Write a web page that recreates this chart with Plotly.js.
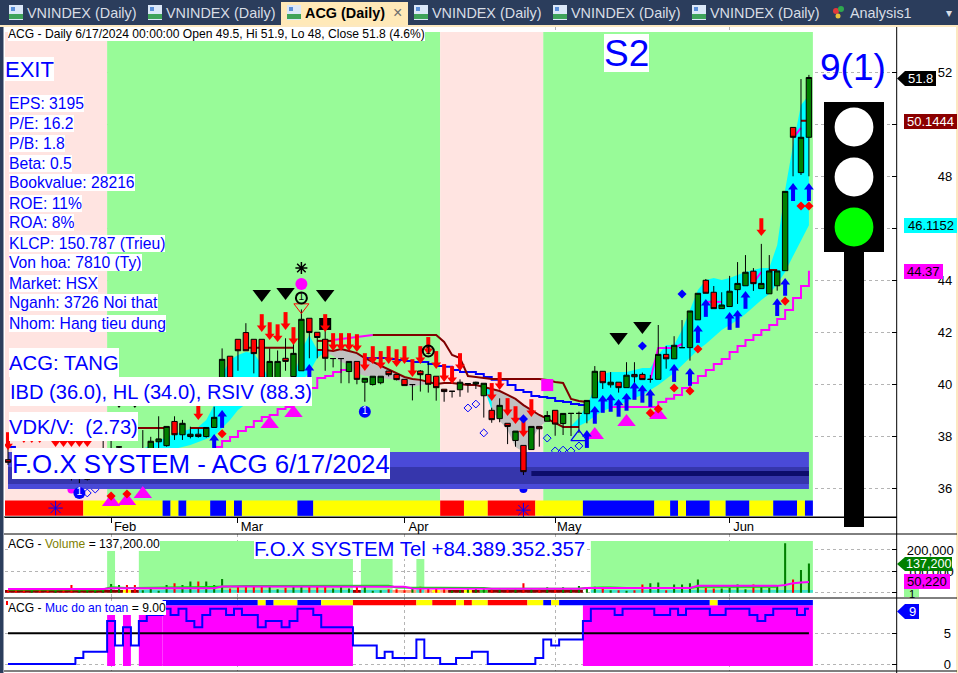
<!DOCTYPE html>
<html><head><meta charset="utf-8"><title>ACG</title>
<script src="https://cdn.plot.ly/plotly-3.0.1.min.js"></script>
<style>html,body{margin:0;padding:0;background:#fff;overflow:hidden}#c{width:958px;height:673px}</style>
</head><body><div id="c"></div><script>
// ---------- DATA ----------
const open_ =[37.1,37,36.9,36.8,36.9,36.8,36.6,36.8,36.6,36.4,36.36,36.5,36.8,37.2,37.59,37.4,37.3,37.2,37.2,37.79,37.64,38.57,38.06,37.99,38.08,37.99,38.34,40.23,41.08,41.73,41.99,41.73,41.73,40.23,40.23,41,40.3,40.52,42.54,42,41.73,40.99,40.99,40.49,40.88,40.08,39.99,40.06,40.51,40.38,40.19,39.99,40.51,40.38,40.31,39.81,39.73,39.79,40.02,40.01,39.56,39,38.68,38.5,37.84,37.65,37.49,38.38,38.58,39,38.49,38.88,38.88,38.87,39.48,40.5,39.98,40.08,39.87,40.38,40.38,40.19,40.19,41.15,40.98,41.41,41.41,42.48,44,43.54,42.91,42.99,43.64,43.79,44.35,43.68,43.48,43.79,44.37,49.88,48.14,49.5];
const high_ =[37.55,37.2,37.1,37,37.1,36.9,36.9,37,36.7,36.6,36.5,36.8,37.86,37.82,37.59,37.5,37.45,38.24,37.98,38.77,38.38,38.77,38.63,38.37,38.3,38.35,39.14,41.38,41.08,41.73,42.35,41.73,41.73,41.38,41.3,41.77,41.73,42.88,42.54,42,42.3,40.99,40.99,40.88,40.88,40.23,40.31,40.31,40.51,40.38,40.19,39.99,40.55,40.85,40.31,39.81,39.73,40.19,40.02,40.1,40.04,39.1,39.46,38.5,38.2,37.65,38.38,38.38,38.97,39,38.88,38.88,38.95,39.38,40.7,40.5,40.47,40.08,40.85,40.85,40.45,40.36,42.28,41.47,41.85,42.47,42.82,43.5,44.05,43.78,43.54,44.17,44.7,44.97,44.47,45.4,44.97,44.36,47.42,49.88,51.74,51.9];
const low_  =[36.9,36.7,36.6,36.6,36.7,36.5,36.5,36.5,36.3,36.2,36.3,36.4,36.7,37.2,37.2,37.1,37.1,37.1,37.1,37.54,37.6,37.86,37.86,37.92,37.95,37.95,38.34,40.2,40.2,40.52,41.29,40.42,40.23,40.23,40.23,40.52,40.3,40.52,41,41,40.52,40.65,40.04,40.04,40,39.33,39.95,40,40.3,40.15,39.95,39.38,39.72,39.68,39.37,39.33,39.49,39.52,39.68,39.82,38.72,38.52,38.54,37.7,37.6,36.51,37.49,37.6,38.58,38.02,38.05,38.01,38.13,38.5,39.48,39.82,39.87,39.68,39.87,39.97,40.18,40.06,40.19,40.6,40.98,41.41,40.91,42.48,43.5,42.91,42.91,42.99,43.09,43.79,43.59,43.68,43.48,43.6,44.37,48,48.05,48];
const close_=[37,36.9,36.8,36.9,36.8,36.6,36.8,36.6,36.4,36.5,36.36,36.7,37.5,37.45,37.59,37.3,37.2,37.4,37.81,37.9,38.38,38.06,38.5,38.08,37.99,38.34,38.73,40.96,40.23,41.29,41.29,41.18,40.23,40.88,40.88,40.88,41.19,42.5,41.99,41.8,41,40.99,40.99,40.88,40.19,40.23,40.31,40.31,40.37,40.18,39.95,39.99,40.37,40,39.87,39.72,39.73,40.08,40.02,40.08,40.04,38.64,39.19,38.38,38.2,36.64,38.38,38.29,38.8,38.47,38.88,38.88,38.88,39.38,40.5,40.06,40.08,39.87,40.35,40.29,40.18,40.19,41.15,40.98,41.5,41.41,42.82,43.5,43.5,42.91,43.05,43.58,43.88,44.31,43.87,43.88,44.36,44.36,47.42,49.5,49.5,51.8];

// cyan / grey clouds between the two averages
const cyan1Start=17;
const cyan1Hi=[37.51,37.67,37.82,37.97,38.09,38.2,38.28,38.36,38.63,39.2,40.36,40.93,41.13,41.24,41.2,40.74,40.17,39.97,40.01,40.17,41.32,41.9,41.32,41.24];
const cyan1Lo=[37.51,37.47,37.47,37.47,37.51,37.59,37.67,37.78,37.9,38.01,38.32,38.63,39.01,39.24,39.47,39.7,39.78,39.86,39.9,39.97,40.09,40.47,41.01,41.24];
const gray1Start=40;
const gray1Hi=[41.24,41.32,41.36,41.28,41.2,41.01,40.86,40.7,40.55,40.4,40.28,40.2,40.17,40.09,40.01];
const gray1Lo=[41.24,41.09,40.86,40.74,40.43,40.32,40.32,40.24,40.2,40.17,39.97,39.9,39.97,40.01,40.01];
const cyan2Start=60;
const cyan2Hi=[39.9,39.82,39.74];
const cyan2Lo=[39.9,39,39.74];
const gray2Start=61;
const gray2Hi=[39.82,39.74,39.59,39.44,39.2,39.01,38.82,38.67,38.51];
const gray2Lo=[39,38.6,38.24,37.59,37.4,37.86,38.36,38.6,38.51];
const cyan3Start=70;
const cyan3Hi=[38.36,38.4,38.7,39.2,39.86,40.4,40.47,40.47,40.47,40.55,40.63,40.63,41.13,41.51,41.51,42.09,42.86,43.63,44.01,44.09,44.01,44.09,44.2,44.32,44.4,44.47,44.47,45.36,47.47,49.2,50.74,51.13];
const cyan3Lo=[38.36,38.32,38.4,38.55,38.78,38.97,39.09,39.2,39.32,39.47,39.59,39.78,39.97,40.2,40.43,40.7,41.01,41.32,41.55,41.82,42.09,42.28,42.47,42.7,42.97,43.24,43.47,43.86,44.32,44.93,45.55,46.12];

// lines
const stair1Start=26;
const stair1=[37.59,37.82,37.97,38.2,38.36,38.59,38.74,38.82,39.05,39.13,39.36,39.59,39.86,40.24,40.32,40.47,40.55,40.67];
const stair2Start=76;
const stair2=[39.13,39.13,39.13,39.13,39.13,39.13,39.32,39.44,39.59,39.86,40.05,40.32,40.55,40.78,40.97,41.24,41.47,41.7,41.9,42.09,42.28,42.51,42.86,43.32,43.78,44.37];
const avgStart=39;
const avgLine=[41.32,41.32,41.28,41.36,41.28,41.2,41.01,40.86,40.7,40.55,40.4,40.28,40.2,40.17,40.09,40.01,40.05,40.05,40.01,39.97,39.97,39.9,39.82,39.74,39.59,39.44,39.2,39.01,38.82,38.67,38.51,38.36,38.36,38.36];
const blueStart=45;
const blueLine=[41.01,41.01,41.01,40.97,40.93,40.9,40.86,40.86,40.78,40.7,40.67,40.55,40.47,40.47,40.4,40.28,40.17,40.17,39.97,39.78,39.7,39.55,39.51,39.47,39.36,39.32,39.24,39.2,39.09];
const blueStubI=[0,1];
const blueStub=[37.59,37.59];
const topMaroonI=[16,17,18,19,20,null,23,24,25,null,30,31,32,33,34,35,36,null,39,40,41,null,46,47,48,49,50,51,52,53,54,55,56,57,58,59,60,61,62,63,64,65,66,67,68,69,70,71,72,73,null,96,97,null,100,101];
const topMaroon =[38.32,38.32,38.32,38.32,38.32,null,38.32,38.32,38.32,null,41.41,41.41,41.41,41.41,41.41,41.41,41.41,null,41.67,41.67,41.67,null,41.9,41.9,41.9,41.9,41.9,41.9,41.9,41.9,41.9,41.63,41.13,41.01,40.32,40.28,40.24,40.2,40.2,40.2,40.2,40.2,40.2,40.2,40.17,40.09,40.05,39.44,39.36,39.32,null,44.4,44.4,null,50.14,50.14];
const topMagentaI=[41,42,43,44,45,46,null,81,82,83,84,85,null,88,89,90,null,94,95,null,99,100];
const topMagenta =[41.7,41.74,41.78,41.82,41.86,41.9,null,40.17,41.4,41.4,41.4,41.55,null,43.17,43.17,43.17,null,43.9,44.32,null,49.47,49.86];

// markers
const redArrowI=[0,2,3,4,6,7,8,9,10,24,32,33,34,35,36,40,41,42,43,44,45,46,47,48,49,50,51,52,53,54,55,56,57,61,62,63,64,65,66,95];
const redArrowP=[37.78,38.05,38.05,38.05,37.9,37.9,37.9,37.9,37.9,38.93,42.32,42.01,41.93,42.4,41.82,42.32,41.59,41.59,41.59,41.55,40.82,41.09,40.9,41.09,40.97,41.09,40.59,41.09,41.44,40.9,40.4,40.32,40.82,39.67,40.09,39.09,38.78,38.28,39.05,46.01];
const blueArrowI=[26,27,38,73,74,75,76,77,78,79,80,81,84,86,87,88,91,92,93,97,98,99,101];
const blueArrowP=[37.78,38.7,40.47,37.93,38.86,39.28,39.32,39.13,39.36,39.78,39.67,39.51,40.47,40.32,41.97,42.97,42.47,42.55,43.28,43,43.78,47.43,47.43];
const blackTriI=[14,16,32,35,40,77,80];
const blackTriP=[39.4,39.4,43.47,43.55,43.47,41.82,42.24];
const magTriI=[13,15,17,33,36,74,78,82];
const magTriP=[35.47,35.51,35.78,38.47,38.9,38.05,38.55,38.82];
const redDotI=[13,15,27,81,82,84,86,87,98,100,101];
const redDotP=[35.7,35.78,38.1,38.9,39.05,39.86,39.74,41.36,43.2,46.86,46.86];
const blueDiaI=[65,80,85];
const blueDiaP=[38.67,41.47,43.47];
const openDiaI=[10,11,58,59,60,68,69,70,71,72];
const openDiaP=[35.82,35.97,39.09,39.24,38.13,37.93,37.44,37.47,37.44,37.63];
const oneBlueI=[9,45];
const oneBlueP=[35.82,38.94];
const oneBlackI=[37,53];
const oneBlackP=[43.32,41.28];
const snowI=[6,65];
const snowP=[35.24,35.16];
const magSquareI=[68];
const magSquareP=[39.97];
const blackSquareI=[40];
const blackSquareP=[42.32];
const openTriI=[72];
const openTriP=[37.97];
const starI=[37];
const starP=[44.47];
const peakDotP=[43.86];
const peakVeeP=[42.97];
const hiddenBlueDotI=[65];
const hiddenBlueDotP=[35.97];
const hiddenMagDotI=[8];
const hiddenMagDotP=[35.95];

// band levels of the F.O.X block
const bandLight=[35.97,37.4];
const bandDark=[36.17,36.82];
const bandNavy=[36.47,36.67];

// colour runs, one letter per bar
const zoneRuns=[['P',13],['G',42],['P',13],['G',34]];
const signalRuns=[['R',10],['Y',10],['B',1],['Y',1],['B',1],['Y',3],['B',2],['Y',1],['B',1],['Y',7],['B',2],['Y',16],['R',3],['Y',3],['R',6],['Y',6],['B',9],['Y',2],['B',1],['Y',1],['B',3],['Y',2],['B',3],['Y',3],['B',3],['Y',1],['B',1]];
const safetyRuns=[['N',20],['B',12],['Y',1],['B',1],['Y',3],['B',3],['Y',4],['R',8],['Y',2],['R',3],['Y',1],['R',1],['Y',2],['R',5],['Y',2],['B',1],['Y',1],['B',19],['Y',1],['B',12]];
const safeFillLowRuns=[['N',13],['F',1],['N',1],['F',1],['N',1],['F',3],['N',82]];
const safeFillHighRuns=[['N',20],['F',24],['N',29],['F',29]];
const volZoneRuns=[['N',13],['G',1],['N',3],['G',27],['N',1],['G',4],['N',3],['G',1],['N',21],['G',28]];
const volFlagRuns=[['M',15],['Y',1],['M',1],['T',27],['M',1],['T',4],['S',3],['T',1],['S',1],['Y',1],['S',1],['M',2],['Y',1],['M',1],['L',1],['M',12],['N',1],['T',28]];

// volume (thousands)
const volume=[12,20,12,12,16,20,12,20,36,20,16,16,16,41,36,36,36,12,23,9,36,44,36,52,52,52,36,64,20,28,31,36,36,31,16,23,31,31,28,28,36,20,36,20,28,28,9,12,16,16,12,20,28,20,20,16,9,12,16,20,16,16,16,16,16,44,16,16,25,16,25,16,31,23,28,20,12,12,9,12,39,44,48,12,39,39,44,62,23,20,20,23,39,16,39,31,23,33,231,62,106,137.2];
const volAvgMag=[17,17,17,17,17,17,17,17,17,17,17,17,17,21,21,21,21,21,21,21,21,21,21,21,21,21,21,29,29,29,29,29,29,29,29,29,29,29,29,29,29,28,28,28,28,28,28,28,28,28,28,20,20,20,20,20,20,20,20,20,20,18,18,18,18,18,18,18,18,18,18,18,18,22,22,22,22,22,22,22,22,22,22,22,22,22,22,32,32,32,32,32,32,32,32,32,32,32,36,44,48,50.22];
const volAvgLime=[15,15,15,15,15,15,15,15,15,15,15,15,15,25,22,22,22,23,23,24,25,25,25,26,26,27,27,31,31,31,31,31,31,31,31,31,31,31,31,31,31,31,31,31,33,33,33,33,33,24,24,24,24,22,22,22,22,22,22,22,22,18,18,18,18,18,18,18,18,18,18,18,18,22,24,24,24,22,22,22,22,22,22,22,22,22,22,28,28,28,28,28,28,28,28,28,28,28,null,null,null,null];
// safety score
const safety=[0,0,0,0,0,0,0,0,0,1,2,2,2,7,3,6,3,7,8,8,9,8,9,7,6,8,9,9,8,9,8,8,6,7,7,6,7,9,9,8,6,6,6,6,3,3,3,1,2,1,1,1,4,1,1,0,0,1,1,2,2,0,0,0,0,0,0,1,4,3,4,4,4,7,9,9,9,8,9,9,9,9,8,8,9,8,9,9,9,8,8,9,9,9,8,7,8,9,9,9,8,9];
const safeMid=5;
const safeLevelFloor=-0.33, safeLevelLow=8, safeLevelHigh=9.6, safeRibbonTop=10.44;
const signalLo=34.94, signalHi=35.53, zoneHi=53.55;
const volZoneHi=242, volFlagHi=12.6;

// tick labels and captions
const monthTickI=[13,29,50,69,91];
const monthTickT=['Feb','Mar','Apr','May','Jun'];
const priceTicks=[36,38,40,42,44,46,48,50,52];
const priceTickT=['36','38','40','42','44','','48','','52'];
const volTicks=[0,100,200];
const volTickT=['','100,000','200,000'];
const safeTicks=[0,5];
const infoLines=['EPS: 3195','P/E: 16.2','P/B: 1.8','Beta: 0.5','Bookvalue: 28216','ROE: 11%','ROA: 8%','KLCP: 150.787 (Trieu)','Von hoa: 7810 (Ty)','Market: HSX','Nganh: 3726 Noi that','Nhom: Hang tieu dung'];

// ---------- SETUP ----------
const W=958,H=673,N=close_.length;
const idx=Array.from({length:N},(_,i)=>i);
const X=x=>x/W, Y=y=>1-y/H;
const FONT='"Liberation Sans", Arial, sans-serif';
const priceRange=[34.896,53.742];
const volRange=[-24.8,274.9];
const safeRange=[-1.14,10.77];
const xRange=[-0.378,112.07];
const xDomain=[5/W,896.7/W];
const C={P:'#FFE4E1',G:'#98FB98',R:'#FF0000',Y:'#FFFF00',B:'#0000FF',M:'#8B0000',T:'#40E0D0',S:'#FFA07A',L:'#32CD32',F:'#FF00FF'};
const range=(s,a)=>a.map((_,j)=>s+j);
const traces=[];

// each run of equal bars is one wide bar, so neighbours leave no seam
function runBars(runs,lo,hi,xa,ya){
  let start=0;const xs=[],ws=[],cs=[];
  runs.forEach(([k,n])=>{
    if(k!=='N'){xs.push(start+(n-1)/2);ws.push(n);cs.push(C[k]);}
    start+=n;
  });
  traces.push({type:'bar',x:xs,y:xs.map(()=>hi-lo),base:xs.map(()=>lo),width:ws,xaxis:xa,yaxis:ya,
    marker:{color:cs,line:{width:0}},hoverinfo:'skip'});
}
function cloud(start,hi,lo,color,ya){
  const xs=range(start,hi);
  traces.push({type:'scatter',mode:'lines',x:xs.concat(xs.slice().reverse()),y:hi.concat(lo.slice().reverse()),
    fill:'toself',fillcolor:color,line:{width:0},xaxis:'x',yaxis:ya,hoverinfo:'skip'});
}
function line(x,y,color,w,shape,xa,ya){
  traces.push({type:'scatter',mode:'lines',x,y,line:{color,width:w,shape:shape||'linear'},connectgaps:false,xaxis:xa||'x',yaxis:ya||'y',hoverinfo:'skip'});
}
function mk(x,y,symbol,size,color,extra,ya){
  traces.push(Object.assign({type:'scatter',mode:'markers',x,y,xaxis:'x',yaxis:ya||'y2',hoverinfo:'skip',
    marker:Object.assign({symbol,size,color,line:{width:0}},extra||{})}));
}
function mkLine(x,y,symbol,size,color,w,ya){
  traces.push({type:'scatter',mode:'markers',x,y,xaxis:'x',yaxis:ya||'y2',hoverinfo:'skip',
    marker:{symbol,size,color,line:{color,width:w}}});
}
function arrows(I,P,color,dir){
  const perPx=1/26;
  mkLine(I,P.map(p=>p-dir*3.5*perPx),'line-ns',9,color,4);
  mk(I,P.map(p=>p+dir*3.75*perPx),dir>0?'triangle-up':'triangle-down',8.5,color);
}
function one(I,P,symbol,size,color,textColor,lineW){
  traces.push({type:'scatter',mode:'markers+text',x:I,y:P,xaxis:'x',yaxis:'y2',hoverinfo:'skip',
    text:I.map(()=>'1'),textposition:'middle center',textfont:{family:FONT,size:10,color:textColor},
    marker:{symbol,size,color,line:{color,width:lineW}}});
}

// ---------- MAIN PANE: base layer ----------
runBars(zoneRuns,signalLo,zoneHi,'x','y');
runBars(signalRuns,signalLo,signalHi,'x','y');
cloud(cyan1Start,cyan1Hi,cyan1Lo,'#00FFFF','y');
cloud(gray1Start,gray1Hi,gray1Lo,'#C0C0C0','y');
cloud(cyan2Start,cyan2Hi,cyan2Lo,'#00FFFF','y');
cloud(gray2Start,gray2Hi,gray2Lo,'#C0C0C0','y');
cloud(cyan3Start,cyan3Hi,cyan3Lo,'#00FFFF','y');
line(range(stair1Start,stair1),stair1,'#FF00FF',2,'hv');
line(range(stair2Start,stair2),stair2,'#FF00FF',2,'hv');
line(topMagentaI,topMagenta,'#FF00FF',2);
line(range(blueStart,blueLine),blueLine,'#0000FF',2,'hv');
line(blueStubI,blueStub,'#0000FF',2);
line(topMaroonI,topMaroon,'#800000',2);
line(range(avgStart,avgLine),avgLine,'#800000',2);
mk(openDiaI,openDiaP,'diamond-open',6,'#0000FF',{line:{color:'#0000FF',width:1}},'y');
mk(hiddenBlueDotI,hiddenBlueDotP,'circle',8,'#0000FF',null,'y');
mk(hiddenMagDotI,hiddenMagDotP,'circle',8,'#FF00FF',null,'y');

// ---------- MAIN PANE: overlay layer ----------
[[bandLight,50.5,101,'#4A4AD8'],[bandDark,50.5,101,'#3636AC'],[bandNavy,83.5,35,'#0D0D6B']].forEach(([b,cx,wd,col])=>{
  traces.push({type:'bar',x:[cx],y:[b[1]-b[0]],base:[b[0]],width:[wd],xaxis:'x',yaxis:'y2',marker:{color:col,line:{width:0}},hoverinfo:'skip'});
});
traces.push({type:'candlestick',x:idx,open:open_,high:high_,low:low_,close:close_,xaxis:'x',yaxis:'y2',whiskerwidth:0,hoverinfo:'skip',
  increasing:{line:{color:'#000',width:1},fillcolor:'#008000'},decreasing:{line:{color:'#000',width:1},fillcolor:'#FF0000'}});
mk(magSquareI,magSquareP,'square',12,'#FF00FF');
mk(blackSquareI,blackSquareP,'square',12,'#000000');
mk(magTriI,magTriP,'triangle-up',16,'#FF00FF');
mk(blackTriI,blackTriP,'triangle-down',16,'#000000');
arrows(redArrowI,redArrowP,'#FF0000',-1);
arrows(blueArrowI,blueArrowP,'#0000FF',1);
mk(redDotI,redDotP,'diamond',7,'#FF0000');
mk(blueDiaI,blueDiaP,'diamond',7,'#0000FF');
mk(openTriI,openTriP,'triangle-up-open',14,'#0000FF',{line:{color:'#0000FF',width:1.2}});
mk(starI,peakDotP,'circle',12,'#FF00FF');
mk(starI,peakVeeP,'triangle-down-open',13,'#FF0000',{line:{color:'#FF0000',width:1}});
mkLine(starI,starP,'asterisk-open',10,'#000000',1.5);
mkLine(snowI,snowP,'asterisk-open',12,'#0000FF',1);
one(oneBlackI,oneBlackP,'circle-open',11,'#000000','#000000',2);
one(oneBlueI,oneBlueP,'circle',12,'#0000FF','#FFFFFF',0);

// ---------- VOLUME PANE ----------
runBars(volZoneRuns,0,volZoneHi,'x2','y3');
runBars(volFlagRuns,0,volFlagHi,'x2','y3');
traces.push({type:'bar',x:idx,y:volume,width:0.26,xaxis:'x2',yaxis:'y3',hoverinfo:'skip',
  marker:{color:idx.map(i=>close_[i]>=open_[i]?'#008000':'#FF0000'),line:{width:0}}});
line(idx,volAvgLime,'#00E800',2,'linear','x2','y3');
line(idx,volAvgMag,'#FF00FF',2,'linear','x2','y3');

// ---------- SAFETY PANE ----------
runBars(safeFillLowRuns,safeLevelFloor,safeLevelLow,'x3','y4');
runBars(safeFillHighRuns,safeLevelFloor,safeLevelHigh,'x3','y4');
runBars(safetyRuns,safeLevelHigh,safeRibbonTop,'x3','y4');
line(idx,idx.map(()=>safeMid),'#000000',2,'linear','x3','y4');
line(idx,safety,'#0000FF',2,'hvh','x3','y4');

// ---------- LAYOUT ----------
const grid={showgrid:true,griddash:'dot',gridcolor:'#B4B4B4',gridwidth:1,zeroline:false};
const xCommon={range:xRange,domain:xDomain,tickmode:'array',tickvals:monthTickI,fixedrange:true,...grid};
const yFont={family:FONT,size:13,color:'#000'};
const layout={
  width:W,height:H,margin:{l:0,r:0,t:0,b:0},paper_bgcolor:'#fff',plot_bgcolor:'#fff',showlegend:false,
  barmode:'overlay',boxgap:0.2,boxgroupgap:0.15,font:{family:FONT},
  xaxis:{...xCommon,anchor:'y',ticktext:monthTickT,ticks:'outside',ticklen:5,tickcolor:'#000',showline:true,linecolor:'#000',linewidth:1,
    tickfont:{family:FONT,size:13,color:'#000'},ticklabelshift:14,ticklabelstandoff:-8,rangeslider:{visible:false}},
  xaxis2:{...xCommon,anchor:'y3',showticklabels:false,ticks:'',showline:false},
  xaxis3:{...xCommon,anchor:'y4',showticklabels:false,ticks:'',showline:false},
  yaxis:{anchor:'x',domain:[1-517/H,1-27/H],range:priceRange,side:'right',tickmode:'array',tickvals:priceTicks,ticktext:priceTickT,
    ticks:'inside',ticklen:5,tickcolor:'#000',tickfont:yFont,ticklabelstandoff:40,...grid,showline:false},
  yaxis2:{anchor:'x',overlaying:'y',range:priceRange,visible:false},
  yaxis3:{anchor:'x2',domain:[1-598/H,1-534/H],range:volRange,side:'right',tickmode:'array',tickvals:volTicks,ticktext:volTickT,
    ticks:'inside',ticklen:5,tickcolor:'#000',tickfont:yFont,ticklabelstandoff:9,...grid,showline:false},
  yaxis4:{anchor:'x3',domain:[1-671/H,1-598/H],range:safeRange,side:'right',tickmode:'array',tickvals:safeTicks,ticktext:safeTicks.map(String),
    ticks:'inside',ticklen:5,tickcolor:'#000',tickfont:yFont,ticklabelstandoff:46,...grid,showline:false}
};
const shapes=[], anns=[];
function rect(x0,y0,x1,y1,fill,ln){shapes.push({type:'rect',xref:'paper',yref:'paper',x0:X(x0),x1:X(x1),y0:Y(y0),y1:Y(y1),fillcolor:fill,line:{width:ln?1:0,color:ln||fill},layer:'above'});}
function circle(cx,cy,r,fill){shapes.push({type:'circle',xref:'paper',yref:'paper',x0:X(cx-r),x1:X(cx+r),y0:Y(cy-r),y1:Y(cy+r),fillcolor:fill,line:{width:0},layer:'above'});}
function hline(x0,x1,y,c){shapes.push({type:'line',xref:'paper',yref:'paper',x0:X(x0),x1:X(x1),y0:Y(y),y1:Y(y),line:{color:c||'#000',width:1},layer:'above'});}
function vline(x,y0,y1,c){shapes.push({type:'line',xref:'paper',yref:'paper',x0:X(x),x1:X(x),y0:Y(y0),y1:Y(y1),line:{color:c||'#000',width:1},layer:'above'});}
function flag(x0,tip,x1,y0,y1,fill){
  const m=(y0+y1)/2;
  shapes.push({type:'path',xref:'paper',yref:'paper',fillcolor:fill,line:{width:0},layer:'above',
    path:`M${X(tip)},${Y(m)}L${X(x0)},${Y(y0)}L${X(x1)},${Y(y0)}L${X(x1)},${Y(y1)}L${X(x0)},${Y(y1)}Z`});
}
function txt(x,y,text,size,color,o){
  anns.push(Object.assign({xref:'paper',yref:'paper',x:X(x),y:Y(y),text,showarrow:false,xanchor:'left',yanchor:'middle',
    font:{family:FONT,size,color},borderpad:0,borderwidth:0,align:'left'},o||{}));
}
// chrome
rect(0,0,958,25,'#2B3D5C');
rect(0,25,958,27,'#FCE8C0');
rect(0,27,3.5,673,'#2B3D5C');
rect(956,27,958,673,'#FCE8C0');
[[9,27],[148,166],[414,432],[553,571],[692,710]].forEach(([ix,tx])=>{
  rect(ix,5,ix+14,20,'#DCE8F8');rect(ix,14,ix+14,19,'#3FA35A');rect(ix+2,7,ix+6,11,'#5B8FD8');
  txt(tx,13,'VNINDEX (Daily)',14.4,'#D8DDE6');
});
rect(281,2,408,25,'#FFE9B8');
rect(287,5,301,20,'#DCE8F8');rect(287,14,301,19,'#3FA35A');rect(289,7,293,11,'#5B8FD8');
txt(305,13,'<b>ACG (Daily)</b>',14.4,'#000000');
txt(393,12.5,'\u00D7',16,'#6E6E6E');
circle(836,11,3,'#E23A3A');circle(841,9,3,'#2FA84F');circle(838,16,2.5,'#E8C23A');
txt(850,13,'Analysis1',14.4,'#D8DDE6');
txt(946,13,'\u25BE',12,'#D8DDE6');
// pane frames
hline(4,897,517);hline(4,957,534);hline(4,957,598);hline(4,957,671);
vline(896.7,27,673);
// traffic light
rect(844,252,864,527,'#000000');
rect(824,102,884,252,'#000000');
circle(854,127,19.4,'#FFFFFF');circle(854,177,19.4,'#FFFFFF');circle(854,227,19.4,'#00FF00');
// price flags
flag(905,897,936,71,86,'#000000');
txt(920.5,78.5,'51.8',13,'#FFFFFF',{xanchor:'center'});
rect(904,114,957,129,'#8B0000');txt(930.5,121.5,'50.1444',13,'#FFFFFF',{xanchor:'center'});
rect(904,218,957,233,'#00FFFF');txt(930.5,225.5,'46.1152',13,'#000000',{xanchor:'center'});
rect(904,264,943,279,'#FF00FF');txt(923.5,271.5,'44.37',13,'#000000',{xanchor:'center'});
flag(905,897,952,557,571,'#008000');
txt(929,564,'137,200',12.6,'#FFFFFF',{xanchor:'center'});
rect(904,574,950,589,'#FF00FF');txt(927,581.5,'50,220',13,'#000000',{xanchor:'center'});
rect(904,589,919,597,'#98FB98');txt(911.5,594,'1',11,'#000000',{xanchor:'center'});
flag(905,897,919,604,619,'#0000FF');
txt(912,611.5,'9',13,'#FFFFFF',{xanchor:'center'});
rect(6,601,8,605,'#FF0000');
// captions
const blueT='#0000FF';
txt(8,34,'ACG - Daily 6/17/2024 00:00:00 Open 49.5, Hi 51.9, Lo 48, Close 51.8 (4.6%)',12.1,'#000000',{bgcolor:'#FFFFFF',height:14});
txt(5,69,'EXIT',22,blueT,{bgcolor:'#FFFFFF',height:24});
infoLines.forEach((t,i)=>txt(9,103+20*i,t,15.7,blueT,{bgcolor:'#FFFFFF',height:17}));
txt(9,362,'ACG: TANG',20.3,blueT,{bgcolor:'#FFFFFF',height:29});
txt(10,391.5,'IBD (36.0), HL (34.0), RSIV (88.3)',20.1,blueT,{bgcolor:'#FFFFFF',height:29});
txt(9,426.5,'VDK/V:  (2.73)',20.1,blueT,{bgcolor:'#FFFFFF',height:29});
txt(12,463.5,'F.O.X SYSTEM - ACG 6/17/2024',25.85,blueT,{bgcolor:'#FFFFFF',height:31});
txt(604,53,'S2',37,blueT,{bgcolor:'#FFFFFF',height:38});
txt(820,68,'9(1)',37,blueT);
txt(254,548.5,'F.O.X SYSTEM Tel +84.389.352.357',20.4,blueT,{bgcolor:'#FFFFFF',height:21});
txt(8,544,'ACG - <span style="color:#808000">Volume</span> = 137,200.00',12.1,'#000000',{bgcolor:'#FFFFFF',height:14});
txt(8,608,'ACG - <span style="color:#0000FF">Muc do an toan</span> = 9.00',12.1,'#000000',{bgcolor:'#FFFFFF',height:14});
layout.shapes=shapes;layout.annotations=anns;
Plotly.newPlot('c',traces,layout,{staticPlot:true,displayModeBar:false});
</script></body></html>
